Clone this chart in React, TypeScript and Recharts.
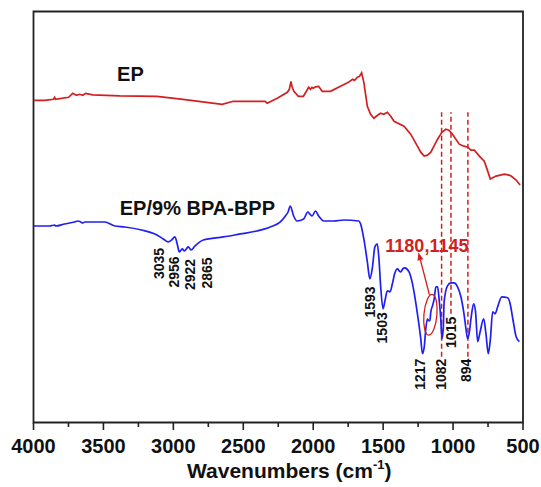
import { LineChart, Line, XAxis, YAxis, ReferenceArea, ReferenceLine, ReferenceDot } from 'recharts';

// FTIR spectra, transmittance in arbitrary units (curves offset for clarity)
const EP_WN = [
  4000, 3921, 3857, 3849, 3842, 3749, 3720, 3692, 3670, 3648, 3627, 3577, 3383, 3118, 2931, 2651, 2572, 2343,
  2329, 2257, 2185, 2171, 2159, 2150, 2138, 2106, 2070, 2049, 2032, 2020, 2009, 1999, 1984, 1961, 1936, 1877,
  1805, 1748, 1719, 1705, 1685, 1669, 1654, 1638, 1613, 1590, 1566, 1540, 1518, 1496, 1470, 1446, 1422, 1351,
  1303, 1255, 1231, 1207, 1183, 1159, 1111, 1080, 1052, 1030, 1004, 956, 923, 895, 872, 848, 812, 777, 757, 734,
  693, 633, 600, 585, 549, 521,
];
const EP_T = [
  323, 323, 324, 326, 324, 326, 330, 328, 329, 328, 330, 328.5, 327.5, 327, 324, 319, 322, 322,
  320, 325, 331, 334, 342, 336, 332, 327, 327, 332, 336, 334, 336, 335, 336.5, 337, 332, 332,
  337, 341, 344, 343, 346, 347, 350.5, 341, 317, 309, 305, 308, 310, 309, 311, 307, 302, 297,
  289, 277, 271, 267, 268, 271, 284, 291, 294, 293, 289, 279, 277, 276, 273, 273, 267, 262, 254, 244,
  247, 249, 248, 247, 243, 238,
];

const BPP_WN = [
  4000, 3885, 3849, 3842, 3778, 3706, 3682, 3663, 3646, 3634, 3586, 3491, 3419, 3347, 3227, 3132, 3072, 3037,
  3012, 2989, 2969, 2958, 2936, 2922, 2893, 2874, 2845, 2786, 2642, 2522, 2402, 2307, 2235, 2199, 2180, 2164,
  2140, 2116, 2068, 2039, 2024, 2008, 1984, 1961, 1925, 1853, 1781, 1674, 1661, 1638, 1613, 1595, 1578, 1559,
  1542, 1530, 1518, 1501, 1487, 1470, 1451, 1434, 1418, 1398, 1385, 1374, 1360, 1346, 1315, 1290, 1260, 1231,
  1219, 1206, 1195, 1183, 1174, 1166, 1159, 1147, 1135, 1123, 1111, 1100, 1088, 1080, 1070, 1064, 1040, 1016,
  993, 968, 944, 920, 908, 896, 883, 872, 853, 840, 824, 808, 781, 765, 748, 733, 717, 700, 681, 652, 609, 592,
  573, 549, 526,
];
const BPP_T = [
  197, 197, 198, 197, 199, 201, 202, 201, 200, 201, 201, 201, 197, 196, 193, 189, 184, 181,
  183, 186, 177, 171, 174, 172, 176, 173, 177, 183, 186, 189, 192, 196, 201, 207, 211, 217,
  207, 202, 204, 211, 209, 207, 212, 207, 202, 202, 203, 202, 199, 184, 161, 144, 154, 176,
  179, 164, 137, 114, 122, 132, 131, 139, 149, 154, 152, 151, 154, 155, 151, 139, 114, 84,
  69, 76, 94, 104, 102, 102, 111, 117, 124, 136, 136, 124, 104, 84, 94, 121, 137, 140,
  140, 136, 126, 107, 94, 84, 91, 104, 119, 112, 81, 90, 104, 89, 69, 84, 111, 109, 116, 126, 125, 119,
  104, 86, 81,
];

const MAJOR_TICKS = [4000, 3500, 3000, 2500, 2000, 1500, 1000, 500];
const MINOR_TICKS = [3750, 3250, 2750, 2250, 1750, 1250, 750];
const SERIES_NAMES = ['EP', 'EP/9% BPA-BPP'];
const PEAK_LABELS = ['3035', '2956', '2922', '2865', '1593', '1503', '1217', '1082', '1015', '894'];
const MARKED_PEAKS = [1082, 1015, 894];
const HIGHLIGHT_LABEL = '1180,1145';

const epData = EP_WN.map((wn, i) => ({ wn, t: EP_T[i] }));
const bppData = BPP_WN.map((wn, i) => ({ wn, t: BPP_T[i] }));
const allTicks = [...MAJOR_TICKS, ...MINOR_TICKS].sort((a, b) => b - a);

const RED = '#d21f1f';
const BLUE = '#1f1ff5';
const INK = '#111';
const FONT = 'Arial, "Liberation Sans", Helvetica, sans-serif';

// label placement: [pixel shift from its own wavenumber, top end in y units]
const peakPos: Record<string, [number, number]> = {
  '3035': [-9.5, 175],
  '2956': [-5, 166.5],
  '2922': [5.7, 164],
  '2865': [14.7, 165.5],
  '1593': [0, 136.5],
  '1503': [-1, 110.5],
  '1217': [-3, 64],
  '1082': [-1, 64],
  '1015': [0, 106],
  '894': [-2, 64],
};
const dashSpan: Record<number, [number, number]> = { 1082: [66, 311], 1015: [109, 311], 894: [66, 311] };

const AxisTick = ({ x, y, payload }: any) => {
  const major = payload.value % 500 === 0;
  return (
    <g>
      <line x1={x} y1={y} x2={x} y2={y + (major ? 7.5 : 4.5)} stroke="#222" strokeWidth={1.6} />
      {major && (
        <text x={x} y={y + 30.5} textAnchor="middle" fontSize={20} fontWeight="bold" fill={INK}>
          {payload.value}
        </text>
      )}
    </g>
  );
};

const AxisTitle = (props: any) => {
  const vb = props.viewBox || { x: 33.5, y: 422.5, width: 489.5 };
  const cx = vb.x + vb.width / 2 + 11;
  return (
    <text x={cx} y={vb.y + 55.5} textAnchor="middle" fontSize={21} fontWeight="bold" fill={INK}>
      <tspan>Wavenumbers (cm</tspan>
      <tspan dy={-9} fontSize={13}>-1</tspan>
      <tspan dy={9}>)</tspan>
    </text>
  );
};

export default function App() {
  return (
    <div style={{ width: 541, height: 487 }}>
      <style>{'body{margin:0}'}</style>
      <LineChart
        width={541}
        height={487}
        margin={{ top: 11.5, right: 18, left: 33.5, bottom: 0 }}
        style={{ fontFamily: FONT, background: '#fff' }}
      >
        <XAxis
          dataKey="wn"
          type="number"
          domain={[500, 4000]}
          reversed
          allowDataOverflow
          ticks={allTicks}
          interval={0}
          tick={<AxisTick />}
          tickLine={false}
          tickSize={0}
          tickMargin={0}
          axisLine={false}
          height={64.5}
          label={(p: any) => <AxisTitle {...p} />}
        />
        <YAxis type="number" domain={[0, 412]} allowDataOverflow hide />

        <ReferenceArea x1={4000} x2={500} y1={0} y2={412} fill="none" stroke="#222" strokeWidth={1.8} />

        {MARKED_PEAKS.map((wn) => (
          <ReferenceLine
            key={wn}
            segment={[{ x: wn, y: dashSpan[wn][0] }, { x: wn, y: dashSpan[wn][1] }]}
            stroke={RED}
            strokeWidth={1.5}
            strokeDasharray="5 3"
          />
        ))}

        <Line data={epData} dataKey="t" type="linear" stroke={RED} strokeWidth={1.7} dot={false} isAnimationActive={false} />
        <Line data={bppData} dataKey="t" type="monotone" stroke={BLUE} strokeWidth={1.7} dot={false} isAnimationActive={false} />

        <ReferenceDot
          x={3307}
          y={349.5}
          r={0}
          shape={(p: any) => (
            <text x={p.cx} y={p.cy} textAnchor="middle" dominantBaseline="central" fontSize={20} fontWeight="bold" fill={INK}>
              {SERIES_NAMES[0]}
            </text>
          )}
        />
        <ReferenceDot
          x={2828}
          y={215.5}
          r={0}
          shape={(p: any) => (
            <text x={p.cx} y={p.cy} textAnchor="middle" dominantBaseline="central" fontSize={20} fontWeight="bold" fill={INK}>
              {SERIES_NAMES[1]}
            </text>
          )}
        />

        {PEAK_LABELS.map((lab) => {
          const [dx, top] = peakPos[lab];
          return (
            <ReferenceDot
              key={lab}
              x={Number(lab)}
              y={top}
              r={0}
              shape={(p: any) => {
                const x = p.cx + dx;
                const y = p.cy;
                return (
                  <text
                    x={x}
                    y={y}
                    transform={`rotate(-90 ${x} ${y})`}
                    textAnchor="end"
                    dominantBaseline="central"
                    fontSize={14}
                    fontWeight="bold"
                    fill={INK}
                  >
                    {lab}
                  </text>
                );
              }}
            />
          );
        })}

        <ReferenceDot
          x={1180}
          y={177.3}
          r={0}
          shape={(p: any) => (
            <text x={p.cx - 1} y={p.cy} textAnchor="middle" dominantBaseline="central" fontSize={18} fontWeight="bold" fill={RED}>
              {HIGHLIGHT_LABEL}
            </text>
          )}
        />

        {/* ellipse round the 1180/1145 shoulder, with arrow to its label */}
        <ReferenceDot
          x={1162}
          y={108}
          r={0}
          shape={(p: any) => {
            const { cx, cy } = p;
            const sx = cx - 1;
            const sy = cy - 20;
            const tx = cx - 12;
            const ty = cy - 62.5;
            const len = Math.hypot(tx - sx, ty - sy);
            const ux = (tx - sx) / len;
            const uy = (ty - sy) / len;
            const bx = tx - ux * 8;
            const by = ty - uy * 8;
            const head = `${tx},${ty} ${bx - uy * 3},${by + ux * 3} ${bx + uy * 3},${by - ux * 3}`;
            return (
              <g>
                <ellipse cx={cx} cy={cy} rx={6.5} ry={20.5} transform={`rotate(5 ${cx} ${cy})`} fill="none" stroke={RED} strokeWidth={1.3} />
                <line x1={sx} y1={sy} x2={bx} y2={by} stroke={RED} strokeWidth={1.3} />
                <polygon points={head} fill={RED} />
              </g>
            );
          }}
        />
      </LineChart>
    </div>
  );
}
